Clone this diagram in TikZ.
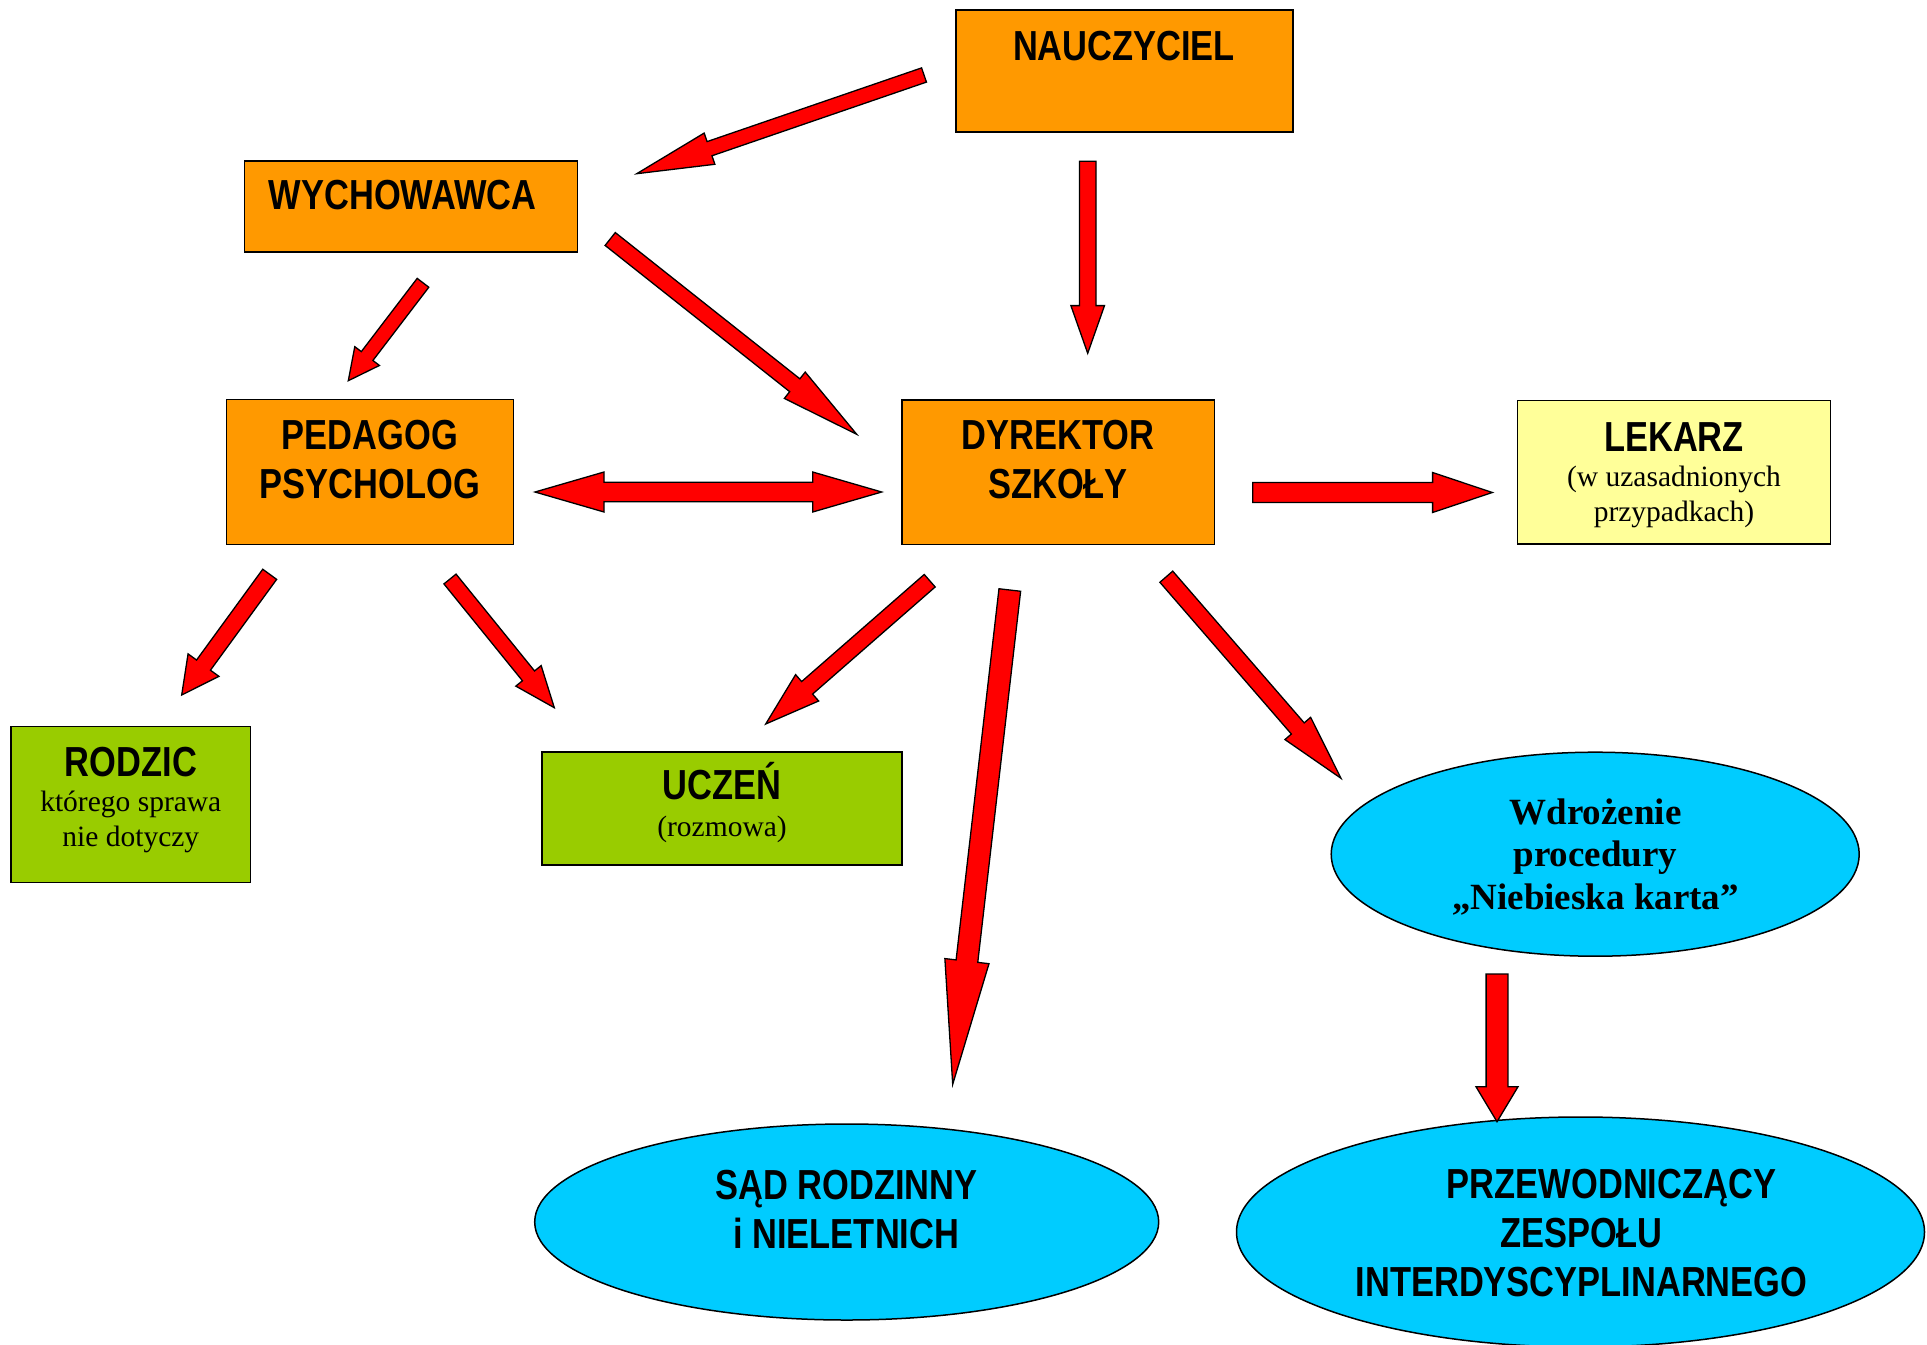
\documentclass[tikz,border=0pt]{standalone}
\usepackage{fontspec}
\setmainfont{Liberation Serif}
\newfontfamily\narrowsans[FakeStretch=0.82]{Liberation Sans}
\usepackage{tikz}
\usetikzlibrary{calc,shapes.geometric}

\definecolor{boxorange}{HTML}{FF9900}
\definecolor{boxyellow}{HTML}{FFFF99}
\definecolor{boxgreen}{HTML}{99CC00}
\definecolor{ovalblue}{HTML}{00CCFF}

\tikzset{
  box/.style={draw=black, line width=1.5pt, inner sep=0pt},
  oval/.style={ellipse, draw=black, fill=ovalblue, line width=1.5pt, inner sep=0pt},
  caps/.style={align=center, inner sep=0pt, font=\narrowsans\bfseries\fontsize{42}{49}\selectfont},
  note/.style={align=center, inner sep=0pt, font=\fontsize{29.5}{35}\selectfont},
  notebold/.style={align=center, inner sep=0pt, font=\bfseries\fontsize{37}{42.5}\selectfont},
  arrowbody/.style={fill=red, draw=black, line width=1.3pt}
}

% #1 tail, #2 tip, #3 half shaft, #4 half head, #5 head length
\newcommand{\blockarrow}[5]{
  \path ($(#2)!#5!(#1)$) coordinate (ba-h);
  \filldraw[arrowbody] ($(#1)!#3!90:(#2)$) -- ($(ba-h)!#3!90:(#2)$) -- ($(ba-h)!#4!90:(#2)$) -- (#2) -- ($(ba-h)!#4!-90:(#2)$) -- ($(ba-h)!#3!-90:(#2)$) -- ($(#1)!#3!-90:(#2)$) -- cycle;
}
\newcommand{\dblarrow}[5]{
  \path ($(#1)!#5!(#2)$) coordinate (ba-a) ($(#2)!#5!(#1)$) coordinate (ba-b);
  \filldraw[arrowbody] (#1) -- ($(ba-a)!#4!90:(#2)$) -- ($(ba-a)!#3!90:(#2)$) -- ($(ba-b)!#3!90:(#2)$) -- ($(ba-b)!#4!90:(#2)$) -- (#2) -- ($(ba-b)!#4!-90:(#2)$) -- ($(ba-b)!#3!-90:(#2)$) -- ($(ba-a)!#3!-90:(#2)$) -- ($(ba-a)!#4!-90:(#2)$) -- cycle;
}

\begin{document}
\begin{tikzpicture}[x=1pt,y=-1pt]
\useasboundingbox (0,0) rectangle (1927,1344);
\clip (0,0) rectangle (1927,1344);

% boxes
\node[box, fill=boxorange, minimum width=337pt, minimum height=121.7pt] (naucz) at (1124.5,70.9) {};
\node[box, fill=boxorange, minimum width=333.4pt, minimum height=90.7pt] (wych) at (411,206.4) {};
\node[box, fill=boxorange, minimum width=286.9pt, minimum height=145pt] (ped) at (369.9,471.8) {};
\node[box, fill=boxorange, minimum width=312.9pt, minimum height=144.3pt] (dyr) at (1058.2,472.2) {};
\node[box, fill=boxyellow, minimum width=313pt, minimum height=143.5pt] (lek) at (1674,472.2) {};
\node[box, fill=boxgreen, minimum width=239.8pt, minimum height=156pt] (rodz) at (130.7,804.7) {};
\node[box, fill=boxgreen, minimum width=359.8pt, minimum height=113.3pt] (ucz) at (721.9,808.4) {};

% ovals
\node[oval, minimum width=528pt, minimum height=204pt] (wdr) at (1595.2,854.2) {};
\node[oval, minimum width=624pt, minimum height=196pt] (sad) at (846.7,1222) {};
\node[oval, minimum width=688pt, minimum height=230pt] (prz) at (1580.5,1232) {};

% texts
\node[caps] (naucz-t) at (1124,45.7) {NAUCZYCIEL};
\node[caps] (wych-t) at (402.7,195.3) {WYCHOWAWCA};
\node[caps] (ped-t) at (370,459.2) {PEDAGOG\\PSYCHOLOG};
\node[caps] (dyr-t) at (1058,459.2) {DYREKTOR\\SZKOŁY};
\node[caps] (lek-t) at (1674,437) {LEKARZ};
\node[note] (lek-n) at (1674,496.6) {(w uzasadnionych\\przypadkach)};
\node[caps] (rodz-t) at (131,761.7) {RODZIC};
\node[note] (rodz-n) at (130.8,822.3) {którego sprawa\\nie dotyczy};
\node[caps] (ucz-t) at (722.3,780.8) {UCZEŃ};
\node[note] (ucz-n) at (722,829.4) {(rozmowa)};
\node[notebold] (wdr-t) at (1595.5,857) {Wdrożenie\\procedury\\„Niebieska karta”};
\node[caps] (sad-t) at (846.3,1209.6) {SĄD RODZINNY\\i NIELETNICH};
\node[caps] (prz-t) at (1581.5,1233.3) {\hspace*{60pt}PRZEWODNICZĄCY\\ZESPOŁU\\INTERDYSCYPLINARNEGO};

% arrow ends
\coordinate (naucz-s1) at (924,75);      \coordinate (wych-e) at (636.7,173.7);
\coordinate (naucz-s2) at (1087.7,161.3); \coordinate (dyr-e1) at (1087.7,353.3);
\coordinate (wych-s1) at (423,282.8);    \coordinate (ped-e) at (348.3,380.7);
\coordinate (wych-s2) at (610.2,239);    \coordinate (dyr-e2) at (856.7,434.3);
\coordinate (ped-w) at (535,492);        \coordinate (dyr-w) at (881.7,492);
\coordinate (dyr-s1) at (1252.7,492.5);  \coordinate (lek-e) at (1492.3,492.5);
\coordinate (ped-s1) at (269.7,574.3);   \coordinate (rodz-e) at (181.7,695);
\coordinate (ped-s2) at (450,579);       \coordinate (ucz-e1) at (554.3,707.7);
\coordinate (dyr-s2) at (929.7,580.7);   \coordinate (ucz-e2) at (765.7,724);
\coordinate (dyr-s3) at (1009.8,590);    \coordinate (sad-e) at (952.7,1084.3);
\coordinate (dyr-s4) at (1166.3,576.7);  \coordinate (wdr-e) at (1341,778.3);
\coordinate (wdr-s) at (1497,974);       \coordinate (prz-e) at (1497,1121.7);

% arrows
\blockarrow{naucz-s1}{wych-e}{7.5pt}{16.5pt}{77pt}
\blockarrow{naucz-s2}{dyr-e1}{8.3pt}{16.8pt}{47.7pt}
\blockarrow{wych-s1}{ped-e}{7.3pt}{15.5pt}{31pt}
\blockarrow{wych-s2}{dyr-e2}{8.2pt}{16.8pt}{79pt}
\dblarrow{ped-w}{dyr-w}{9.7pt}{20pt}{69pt}
\blockarrow{dyr-s1}{lek-e}{10pt}{20pt}{59.7pt}
\blockarrow{ped-s1}{rodz-e}{8.6pt}{19.1pt}{37pt}
\blockarrow{ped-s2}{ucz-e1}{7.8pt}{16.3pt}{41pt}
\blockarrow{dyr-s2}{ucz-e2}{8.3pt}{17.5pt}{55pt}
\blockarrow{dyr-s3}{sad-e}{10.9pt}{22.2pt}{124pt}
\blockarrow{dyr-s4}{wdr-e}{8.5pt}{17pt}{66pt}
\blockarrow{wdr-s}{prz-e}{10.9pt}{21pt}{35pt}
\end{tikzpicture}
\end{document}
